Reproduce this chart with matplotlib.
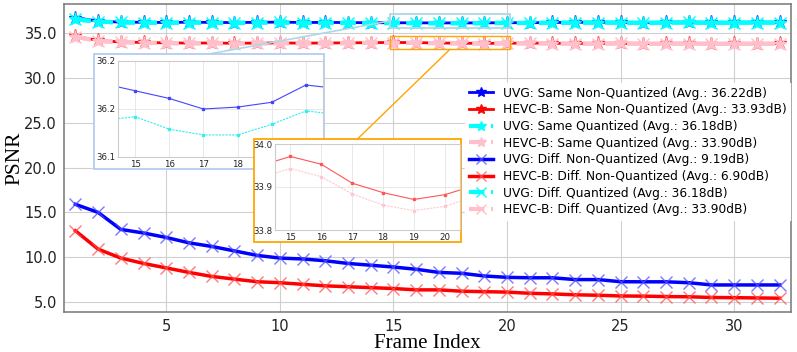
import numpy as np
import matplotlib.pyplot as plt
from matplotlib.patches import Rectangle, ConnectionPatch
from matplotlib.ticker import FormatStrFormatter

frames = np.arange(1, 33)

# PSNR per frame
uvg_same_nq = [36.75, 36.35, 36.24, 36.22, 36.20, 36.23, 36.21, 36.19, 36.22, 36.24, 36.20,
               36.21, 36.19, 36.177, 36.169, 36.161, 36.150, 36.152, 36.157, 36.175, 36.171,
               36.20, 36.22, 36.23, 36.21, 36.19, 36.22, 36.24, 36.20, 36.21, 36.23, 36.22]
uvg_same_q = [36.55, 36.30, 36.20, 36.19, 36.17, 36.19, 36.18, 36.15, 36.19, 36.20, 36.16,
              36.18, 36.15, 36.138, 36.142, 36.129, 36.123, 36.123, 36.134, 36.148, 36.144,
              36.17, 36.18, 36.19, 36.18, 36.15, 36.19, 36.20, 36.16, 36.18, 36.19, 36.19]
hevc_same_nq = [34.65, 34.20, 34.02, 33.97, 33.93, 33.90, 33.91, 33.88, 33.90, 33.92, 33.89,
                33.91, 33.93, 33.949, 33.971, 33.953, 33.909, 33.887, 33.871, 33.882, 33.904,
                33.88, 33.86, 33.87, 33.89, 33.85, 33.86, 33.88, 33.84, 33.86, 33.85, 33.87]
hevc_same_q = [34.60, 34.15, 33.99, 33.94, 33.90, 33.87, 33.88, 33.85, 33.87, 33.89, 33.86,
               33.88, 33.90, 33.921, 33.943, 33.924, 33.884, 33.858, 33.845, 33.855, 33.879,
               33.85, 33.83, 33.84, 33.86, 33.82, 33.83, 33.85, 33.81, 33.83, 33.82, 33.84]
uvg_diff_nq = [15.9, 15.0, 13.1, 12.7, 12.2, 11.6, 11.2, 10.7, 10.2, 9.9, 9.8, 9.6, 9.3, 9.1,
               8.9, 8.65, 8.3, 8.2, 7.9, 7.75, 7.7, 7.7, 7.5, 7.5, 7.26, 7.25, 7.25, 7.15,
               6.9, 6.9, 6.9, 6.9]
hevc_diff_nq = [12.95, 10.9, 9.9, 9.3, 8.8, 8.3, 7.85, 7.55, 7.26, 7.15, 6.97, 6.8, 6.7, 6.6,
                6.5, 6.35, 6.35, 6.2, 6.15, 6.1, 5.97, 5.9, 5.8, 5.75, 5.67, 5.65, 5.6, 5.58,
                5.5, 5.48, 5.45, 5.42]
uvg_diff_q = uvg_same_q
hevc_diff_q = hevc_same_q

labels = ['UVG: Same Non-Quantized (Avg.: 36.22dB)',
          'HEVC-B: Same Non-Quantized (Avg.: 33.93dB)',
          'UVG: Same Quantized (Avg.: 36.18dB)',
          'HEVC-B: Same Quantized (Avg.: 33.90dB)',
          'UVG: Diff. Non-Quantized (Avg.: 9.19dB)',
          'HEVC-B: Diff. Non-Quantized (Avg.: 6.90dB)',
          'UVG: Diff. Quantized (Avg.: 36.18dB)',
          'HEVC-B: Diff. Quantized (Avg.: 33.90dB)']

inset_xticks = [15, 16, 17, 18, 19, 20]
uvg_inset_yticks = [36.1, 36.15, 36.2]
uvg_inset_yticklabels = ['36.1', '36.2', '36.2']
hevc_inset_yticks = [33.8, 33.9, 34.0]

W, H = 797, 352


def px_box(x0, y0, x1, y1):
    return [x0 / W, 1 - y1 / H, (x1 - x0) / W, (y1 - y0) / H]


fig = plt.figure(figsize=(W / 100, H / 100), dpi=100)
ax = fig.add_axes(px_box(64, 4.3, 791, 312), zorder=0)

ax.plot(frames, uvg_same_nq, '-', color='blue', marker='*', ms=9.5, lw=2, label=labels[0])
ax.plot(frames, hevc_same_nq, '-', color='red', marker='*', ms=9.5, lw=2, label=labels[1])
ax.plot(frames, uvg_same_q, '--', color='cyan', marker='*', ms=9.5, lw=3, label=labels[2])
ax.plot(frames, hevc_same_q, '--', color='pink', marker='*', ms=9.5, lw=3, label=labels[3])
ax.plot(frames, uvg_diff_nq, '-', color='blue', marker='x', ms=9, mew=1,
        mec=(0.3, 0.3, 1, 0.75), lw=2.5, label=labels[4])
ax.plot(frames, hevc_diff_nq, '-', color='red', marker='x', ms=9, mew=1,
        mec=(1, 0.3, 0.3, 0.75), lw=2.5, label=labels[5])
ax.plot(frames, uvg_diff_q, '--', color='cyan', marker='x', ms=9, lw=3, label=labels[6])
ax.plot(frames, hevc_diff_q, '--', color='pink', marker='x', ms=9, lw=3, label=labels[7])

ax.set_xlim(0.5, 32.5)
ax.set_ylim(3.88, 38.23)
ax.set_xticks([5, 10, 15, 20, 25, 30])
ax.set_yticks([5, 10, 15, 20, 25, 30, 35])
ax.yaxis.set_major_formatter(FormatStrFormatter('%.1f'))
ax.tick_params(length=0, pad=5, labelsize=10.5, colors='#222222')
ax.grid(True, color='#d0d0d0', lw=0.8)
for s in ax.spines.values():
    s.set_color('#777777')
    s.set_linewidth(1.1)
ax.set_xlabel('Frame Index', family='Liberation Serif', fontsize=15, labelpad=0)
ax.set_ylabel('PSNR', family='Liberation Serif', fontsize=15.5, labelpad=0)

leg = ax.legend(loc='upper right', bbox_to_anchor=(0.999, 0.744), borderaxespad=0,
                fontsize=8.8, labelspacing=0.3, borderpad=0.3, framealpha=1,
                edgecolor='white', fancybox=False, markerscale=0.75)

# zoom rectangles in the main plot
ax.add_patch(Rectangle((14.85, 35.62), 5.28, 1.49, fill=False, ec='lightblue', lw=1.3, zorder=5))
ax.add_patch(Rectangle((14.85, 33.21), 5.28, 1.52, fill=False, ec='orange', lw=1.0, zorder=5))

# inset frames + axes
uvg_frame = px_box(94, 54, 324, 169)
hevc_frame = px_box(254, 139, 461, 242)
fig.add_artist(Rectangle(uvg_frame[:2], uvg_frame[2], uvg_frame[3], transform=fig.transFigure,
                         fc='white', ec='#b4cdf0', lw=1.3, zorder=2))
fig.add_artist(Rectangle(hevc_frame[:2], hevc_frame[2], hevc_frame[3], transform=fig.transFigure,
                         fc='white', ec='orange', lw=1.3, zorder=4))

fig.add_artist(ConnectionPatch(xyA=(14.85, 36.37), coordsA=ax.transData,
                               xyB=(uvg_frame[0] + uvg_frame[2] / 2, uvg_frame[1] + uvg_frame[3]),
                               coordsB=fig.transFigure, color='lightblue', lw=1.2, zorder=1))
fig.add_artist(ConnectionPatch(xyA=(17.49, 33.21), coordsA=ax.transData,
                               xyB=(hevc_frame[0] + hevc_frame[2] / 2, hevc_frame[1] + hevc_frame[3]),
                               coordsB=fig.transFigure, color='orange', lw=1.0, zorder=1))

ins1 = fig.add_axes(px_box(118, 61, 323, 157), zorder=3)
ins1.plot(frames, uvg_same_nq, '-', color='#4444ff', marker='s', ms=1.8, lw=0.8)
ins1.plot(frames, uvg_same_q, '--', color='#33eeee', marker='s', ms=1.8, lw=0.8, dashes=(2, 1))
ins1.set_ylim(36.1, 36.2)
ins1.set_yticks(uvg_inset_yticks)
ins1.set_yticklabels(uvg_inset_yticklabels)

ins2 = fig.add_axes(px_box(275, 144, 460, 230), zorder=5)
ins2.plot(frames, hevc_same_nq, '-', color='#ff5555', marker='s', ms=1.8, lw=0.8)
ins2.plot(frames, hevc_same_q, '--', color='#ffc8d0', marker='s', ms=1.8, lw=0.8, dashes=(2, 1))
ins2.set_ylim(33.8, 34.0)
ins2.set_yticks(hevc_inset_yticks)
ins2.yaxis.set_major_formatter(FormatStrFormatter('%.1f'))

for ins in (ins1, ins2):
    ins.set_xlim(14.5, 20.5)
    ins.set_xticks(inset_xticks)
    ins.tick_params(length=0, pad=2, labelsize=6.2, colors='#222222')
    ins.grid(True, color='#e4e4e4', lw=0.6)
    for s in ins.spines.values():
        s.set_color('#cccccc')
        s.set_linewidth(0.8)

fig.savefig('out.png', dpi=100)
